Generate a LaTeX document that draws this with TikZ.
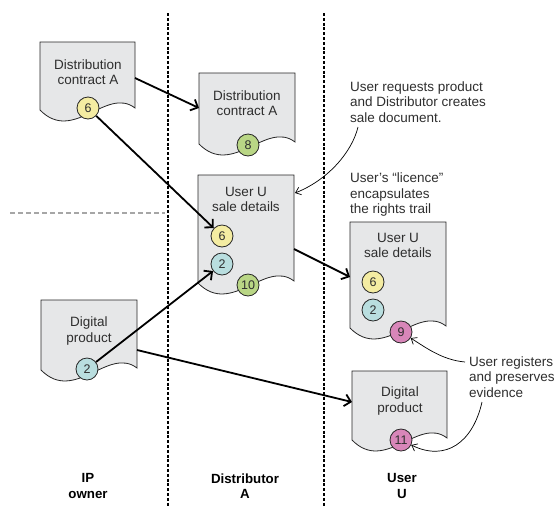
\documentclass[tikz,border=0pt]{standalone}
\usepackage{fontspec}
\setmainfont{Liberation Sans}
\usetikzlibrary{arrows.meta}
\definecolor{docfill}{HTML}{E6E7E8}
\definecolor{cyellow}{HTML}{F4ECA2}
\definecolor{cteal}{HTML}{B9DEDF}
\definecolor{cgreen}{HTML}{B9D685}
\definecolor{cpink}{HTML}{D886B9}
\definecolor{txt}{HTML}{2E2E2E}
\pgfdeclarelayer{bg}
\pgfdeclarelayer{mid}
\pgfsetlayers{bg,mid,main}
\tikzset{
  docbody/.style={fill=docfill,draw=black!85,line width=0.8pt,line join=miter},
  doctext/.style={align=center,inner sep=0pt,text=txt,font=\fontsize{13.5}{15.5}\selectfont},
  note/.style={align=left,inner sep=0pt,text=txt,font=\fontsize{13.5}{15.5}\selectfont},
  lanelabel/.style={align=center,inner sep=0pt,text=black,font=\fontsize{13.3}{15.5}\selectfont\bfseries},
  badge/.style={circle,draw=black!85,line width=0.8pt,minimum size=22pt,inner sep=0pt,text=txt,font=\fontsize{12.5}{13}\selectfont},
  flow/.style={line width=1.8pt,-{Straight Barb[length=6pt,width=12pt]}},
  pointer/.style={line width=0.7pt,-{Straight Barb[length=5pt,width=8pt]}},
  lane/.style={line width=1.8pt,dash pattern=on 3pt off 1.8pt},
  split/.style={line width=1.5pt,draw=black!35,dash pattern=on 5pt off 3pt}
}
\newcommand\docshape[4]{%
  \draw[docbody] (#1,#2) -- (#3,#2) -- (#3,{#4-2})
    .. controls ({#3-0.3*(#3-#1)},{#4-24}) and ({#1+0.35*(#3-#1)},{#4+34}) .. (#1,#4) -- cycle;}
\begin{document}
\begin{tikzpicture}[x=1pt,y=-1pt]
\useasboundingbox (0,0) rectangle (559,507);
\begin{pgfonlayer}{bg}
% lanes
\coordinate (laneAtop) at (168,13);
\coordinate (laneAbot) at (168,507);
\coordinate (laneBtop) at (324,13);
\coordinate (laneBbot) at (324,507);
\draw[lane] (laneAtop) -- (laneAbot);
\draw[lane] (laneBtop) -- (laneBbot);
\coordinate (splitL) at (10,213);
\coordinate (splitR) at (165,213);
\draw[split] (splitL) -- (splitR);
% documents
\docshape{40}{42}{135}{110}
\docshape{199}{73}{295}{144}
\docshape{198}{175}{294}{283}
\docshape{41}{300}{137}{370}
\docshape{350}{222}{446}{328}
\docshape{352}{371}{447}{440}
\end{pgfonlayer}
% doc texts
\node[doctext] (t1) at (88,72) {Distribution\\contract A};
\node[doctext] (t2) at (247,103) {Distribution\\contract A};
\node[doctext] (t3) at (246,199.5) {User U\\sale details};
\node[doctext] (t4) at (89,331) {Digital\\product};
\node[doctext] (t5) at (398,245.5) {User U\\sale details};
\node[doctext] (t6) at (400,401) {Digital\\product};
% badges
\node[badge,fill=cyellow] (c1) at (88,108) {6};
\node[badge,fill=cgreen] (c2) at (248,145) {8};
\node[badge,fill=cyellow] (c3a) at (222,236) {6};
\node[badge,fill=cteal] (c3b) at (222,264) {2};
\node[badge,fill=cgreen] (c3c) at (248,285) {10};
\node[badge,fill=cteal] (c4) at (87,369) {2};
\node[badge,fill=cyellow] (c5a) at (373,282) {6};
\node[badge,fill=cteal] (c5b) at (373,310) {2};
\node[badge,fill=cpink] (c5c) at (401,332) {9};
\node[badge,fill=cpink] (c6) at (401,440) {11};
% edge coordinates
\coordinate (d1out) at (135,78);
\coordinate (d2in) at (199,108);
\coordinate (d4out) at (137,350);
\coordinate (d6in) at (352,402);
\coordinate (d3out) at (294,249);
\coordinate (d5in) at (350,277);
\coordinate (d3note) at (295,193);
% flows
\begin{pgfonlayer}{mid}
\draw[flow] (d1out) -- (d2in);
\draw[flow] (c1) -- (c3a);
\draw[flow] (c4) -- (c3b);
\draw[flow] (d4out) -- (d6in);
\draw[flow] (d3out) -- (d5in);
\end{pgfonlayer}
% notes
\node[note,anchor=west] (n1) at (350,102) {User requests product\\and Distributor creates\\sale document.};
\node[note,anchor=west] (n2) at (350,195) {User’s “licence”\\encapsulates\\the rights trail};
\node[note,anchor=west] (n3) at (469,377) {User registers\\and preserves\\evidence};
\coordinate (n1s) at (358,127);
\coordinate (n3s) at (465,362);
\coordinate (n3t) at (482,402);
\draw[pointer] (n1s) .. controls (352,152) and (328,180) .. (d3note);
\draw[pointer] (n3s) .. controls (442,360) and (425,347) .. (c5c);
\draw[pointer] (n3t) .. controls (473,442) and (446,462) .. (c6);
% lane labels
\node[lanelabel] (l1) at (88,486) {IP\\owner};
\node[lanelabel] (l2) at (245,486) {Distributor\\A};
\node[lanelabel] (l3) at (402,486) {User\\U};
\end{tikzpicture}
\end{document}
